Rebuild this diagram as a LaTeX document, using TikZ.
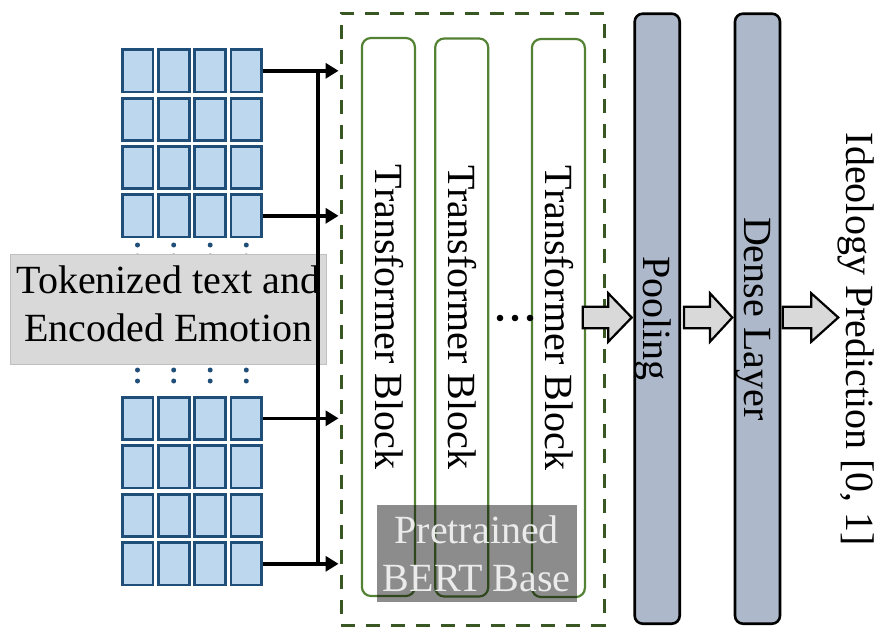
\documentclass[tikz,border=0pt]{standalone}
\usepackage{fontspec}
\setmainfont{Liberation Serif}
\usetikzlibrary{calc,arrows.meta}

\definecolor{cellfill}{HTML}{BDD7EE}
\definecolor{cellline}{HTML}{1F4E79}
\definecolor{bertgreen}{HTML}{385723}
\definecolor{blockgreen}{HTML}{548235}
\definecolor{layerfill}{HTML}{ADB9CA}
\definecolor{boxgray}{HTML}{D9D9D9}
\definecolor{boxline}{HTML}{BFBFBF}

\tikzset{
  bigfont/.style={font=\fontsize{40}{48.5}\selectfont},
  cell/.style={draw=cellline, fill=cellfill, line width=2.8pt,
    minimum width=30.8pt, minimum height=42.2pt, inner sep=0pt},
  seqdot/.style={fill=cellline, draw=none},
  feed/.style={line width=3.4pt, -{Triangle[length=13pt,width=15pt]}},
  bus/.style={line width=3.4pt},
  bertframe/.style={draw=bertgreen, line width=3pt, dash pattern=on 14pt off 11pt,
    minimum width=263.3pt, minimum height=611.7pt, inner sep=0pt},
  tblock/.style={draw=blockgreen, line width=2.2pt, rounded corners=9pt,
    rotate=-90, minimum width=558pt, minimum height=53pt, inner sep=0pt,
    bigfont, text height=26.5pt, text depth=0pt},
  layer/.style={draw=black, fill=layerfill, line width=2.6pt, rounded corners=8pt,
    rotate=-90, minimum width=610pt, minimum height=45pt, inner sep=0pt,
    bigfont, text height=26.5pt, text depth=0pt},
  fat/.style={draw=black, fill=boxgray, line width=2.2pt, line join=miter},
  vtext/.style={rotate=-90, bigfont, inner sep=0pt, text height=26.5pt, text depth=0pt},
}

% wide block arrow: #1 tail point, #2 tip point, #3 head length
\newcommand\blockarrow[3]{%
  \draw[fat] ($(#1)+(0,-10.8)$) -- ($(#2)+(-#3,-10.8)$) -- ($(#2)+(-#3,-24.2)$)
    -- (#2) -- ($(#2)+(-#3,24.2)$) -- ($(#2)+(-#3,10.8)$) -- ($(#1)+(0,10.8)$) -- cycle;}

\begin{document}
\begin{tikzpicture}[x=1pt,y=-1pt]
\useasboundingbox (0,0) rectangle (880,627);

% BERT encoder frame and its transformer blocks
\node[bertframe] (bert) at (472.7,319.2) {};
\node[tblock] (tb1) at (388.4,317) {Transformer Block};
\node[tblock] (tb2) at (461.7,317.5) {Transformer Block};
\node[tblock] (tb3) at (558.4,318) {Transformer Block};
\foreach \x/\n in {500/1,515/2,530/3}
  \fill (\x,318) circle (3.3pt) coordinate (ell\n);
\node[fill=black, fill opacity=0.45, text opacity=1, text=white!92!black,
      minimum width=200pt, minimum height=97.3pt, inner sep=0pt,
      align=center, bigfont] (pretrained) at (476.7,553.7) {Pretrained\\BERT Base};

% pooling and dense layers
\node[layer] (pool) at (657.2,318.7) {Pooling};
\node[layer] (dense) at (757.5,318.7) {Dense Layer};
\node[vtext] (pred) at (860,339.5) {Ideology Prediction [0, 1]};

\coordinate (f1s) at (582.7,317.5); \coordinate (f1t) at (631.7,317.5);
\coordinate (f2s) at (684,317.5);   \coordinate (f2t) at (732.3,317.5);
\coordinate (f3s) at (782.7,317.5); \coordinate (f3t) at (838.3,317.5);
\blockarrow{f1s}{f1t}{23.4}
\blockarrow{f2s}{f2t}{22.3}
\blockarrow{f3s}{f3t}{27}

% token/emotion embedding grids
\foreach \c [count=\ci] in {137.5,173.7,210.2,246.3} {
  \foreach \r [count=\ri] in {70.8,119.2,167.5,215.8}
    \node[cell] (ga-\ri-\ci) at (\c,\r) {};
  \foreach \r [count=\ri] in {418.3,466.8,515.5,563.8}
    \node[cell] (gb-\ri-\ci) at (\c,\r) {};
  \foreach \y in {245,256,370,381}
    \fill[seqdot] (\c,\y) circle (2.5pt);
}

% input label
\node[fill=boxgray, draw=boxline, line width=0.8pt, minimum width=316.7pt,
      minimum height=110.3pt, inner sep=0pt] (tokbox) at (168.3,309.2) {};
\node[bigfont, align=center, inner sep=0pt] (toktext) at (168.3,303.7)
  {Tokenized text and\\Encoded Emotion};

% feeds into the encoder
\coordinate (bustop) at (318,70.8);
\coordinate (busbot) at (318,563.8);
\draw[bus] (bustop) -- (busbot);
\foreach \g/\r in {ga/1,ga/4,gb/1,gb/4}
  \draw[feed] (\g-\r-4.east) -- ($(bert.west |- \g-\r-4.east)+(-1,0)$);
\end{tikzpicture}
\end{document}
